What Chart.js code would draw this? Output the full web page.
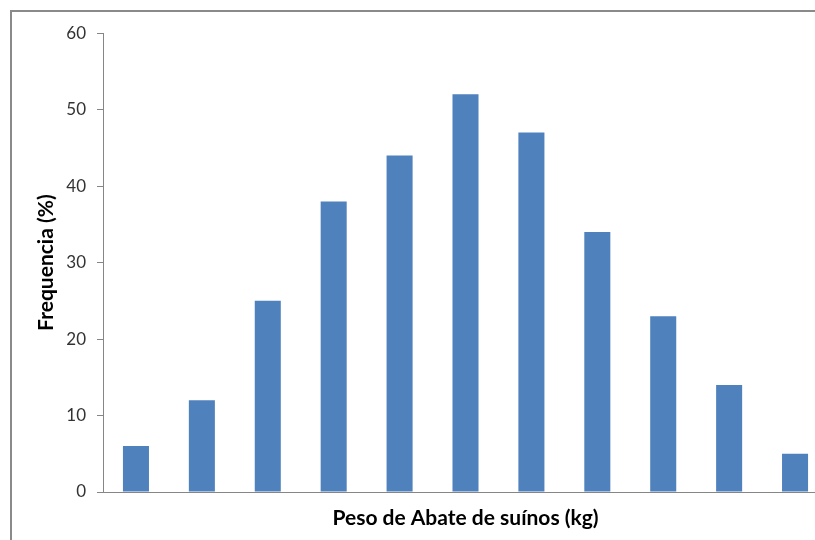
<!DOCTYPE html>
<html>
<head>
<meta charset="utf-8">
<script src="https://cdn.jsdelivr.net/npm/chart.js@4/dist/chart.umd.min.js"></script>
<style>
  html, body { margin: 0; padding: 0; background: #fff; overflow: hidden; }
  #frame {
    position: absolute; left: 10px; top: 10px;
    width: 840px; height: 540px;
    border-left: 2px solid #8a8a8a; border-top: 2px solid #8a8a8a;
  }
  #wrap { position: absolute; left: 0; top: 0; width: 830px; height: 528px; }
</style>
</head>
<body>
<div id="frame"><div id="wrap"><canvas id="c"></canvas></div></div>
<script>
// Weight classes (unlabelled on the axis) and their frequencies in percent
const classes = ['1', '2', '3', '4', '5', '6', '7', '8', '9', '10', '11'];
const frequencia = [6, 12, 25, 38, 44, 52, 47, 34, 23, 14, 5];
const yTicks = [0, 10, 20, 30, 40, 50, 60];

const FONT = 'Lato, "Open Sans", "Liberation Sans", sans-serif';
const AXIS = '#868686';

new Chart(document.getElementById('c'), {
  type: 'bar',
  data: {
    labels: classes,
    datasets: [{
      data: frequencia,
      backgroundColor: '#4F81BD',
      borderWidth: 0,
      categoryPercentage: 1,
      barPercentage: 0.395
    }]
  },
  options: {
    responsive: true,
    maintainAspectRatio: false,
    animation: false,
    layout: { padding: { left: 0, top: 18, right: 14, bottom: 0 } },
    plugins: { legend: { display: false }, tooltip: { enabled: false } },
    scales: {
      x: {
        grid: { display: false },
        border: { display: true, color: AXIS, width: 1 },
        ticks: { display: false },
        title: {
          display: true,
          text: 'Peso de Abate de suínos (kg)',
          color: '#000',
          font: { family: FONT, size: 21, weight: 'bold' },
          padding: { top: 0, bottom: 9 }
        },
        afterFit(scale) { scale.height = 48; }
      },
      y: {
        min: 0, max: 60,
        afterBuildTicks(scale) { scale.ticks = yTicks.map(v => ({ value: v })); },
        grid: { drawOnChartArea: false, drawTicks: true, tickLength: 6, color: AXIS },
        border: { display: true, color: AXIS, width: 1 },
        ticks: {
          color: '#333',
          padding: 11,
          font: { family: FONT, size: 17 }
        },
        title: {
          display: true,
          text: 'Frequencia (%)',
          color: '#000',
          font: { family: FONT, size: 21, weight: 'bold' },
          padding: { top: 22, bottom: 0 }
        },
        afterFit(scale) { scale.width = 91; }
      }
    }
  }
});
</script>
</body>
</html>
